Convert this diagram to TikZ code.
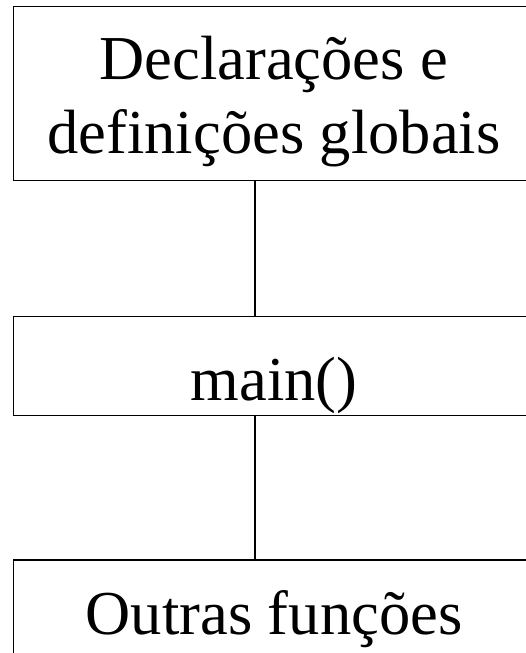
\documentclass[tikz,border=0pt]{standalone}
\usepackage{fontspec}
\setmainfont{Liberation Serif}
\begin{document}
\begin{tikzpicture}[x=1pt,y=-1pt,
  block/.style={draw, line width=1.8pt, inner sep=0pt, minimum width=521pt,
    font=\fontsize{62.5}{74}\selectfont, align=center},
  link/.style={line width=1.8pt}]
\useasboundingbox (0,0) rectangle (526,653);
\begin{scope}
\clip (0,0) rectangle (526,653);
% program layout blocks
\node[block, minimum height=174pt, text height=119pt, text depth=0pt] (globais) at (274,93.5)
  {Declarações e\\definições globais};
\node[block, minimum height=99pt, text height=69pt, text depth=0pt] (mainf) at (274,366)
  {main()};
\node[block, minimum height=148pt, text height=20pt, text depth=20pt] (outras) at (274,634)
  {Outras funções};
% vertical links between blocks
\draw[link] ([xshift=-19pt]globais.south) -- ([xshift=-19pt]mainf.north);
\draw[link] ([xshift=-19pt]mainf.south) -- ([xshift=-19pt]outras.north);
\end{scope}
\end{tikzpicture}
\end{document}
